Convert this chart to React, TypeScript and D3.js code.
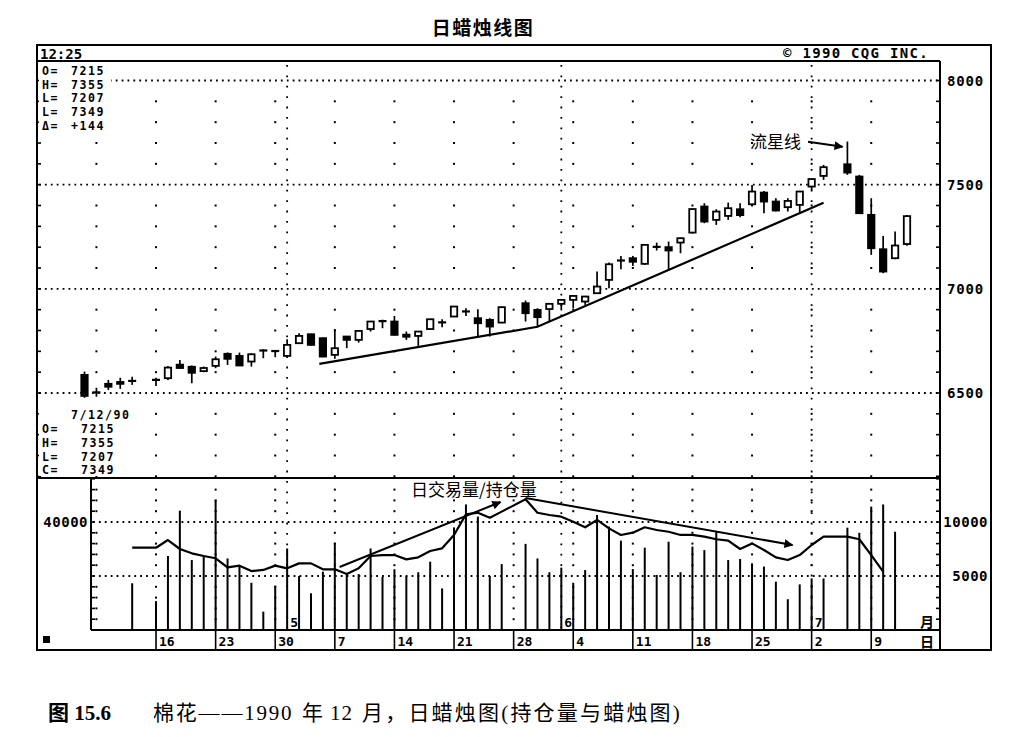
import React from "react";
import * as d3 from "d3";

// ---------- DATA ----------
const candleDates = [
  "4/6","4/9","4/10","4/11","4/12","4/16","4/17","4/18","4/19","4/20",
  "4/23","4/24","4/25","4/26","4/27","4/30","5/1","5/2","5/3","5/4",
  "5/7","5/8","5/9","5/10","5/11","5/14","5/15","5/16","5/17","5/18",
  "5/21","5/22","5/23","5/24","5/25","5/29","5/30","5/31","6/1","6/4",
  "6/5","6/6","6/7","6/8","6/11","6/12","6/13","6/14","6/15","6/18",
  "6/19","6/20","6/21","6/22","6/25","6/26","6/27","6/28","6/29","7/2",
  "7/3","7/5","7/6","7/9","7/10","7/11","7/12",
];
const opens = [
  6587,6503,6544,6553,6558,6563,6571,6636,6626,6605,
  6630,6688,6678,6651,6708,6705,6678,6739,6782,6763,
  6683,6771,6755,6807,6848,6843,6780,6774,6807,6840,
  6867,6893,6859,6851,6838,6931,6899,6903,6928,6947,
  6939,6979,7043,7134,7147,7120,7200,7200,7222,7270,
  7395,7331,7350,7382,7406,7462,7419,7392,7403,7491,
  7542,7598,7539,7355,7190,7147,7215,
];
const highs = [
  6603,6525,6563,6573,6578,6573,6630,6658,6632,6627,
  6675,6695,6694,6690,6710,6706,6758,6787,6785,6766,
  6807,6773,6802,6846,6852,6870,6795,6797,6856,6854,
  6918,6907,6902,6859,6915,6944,6907,6930,6950,6970,
  6966,7083,7126,7158,7158,7215,7222,7227,7246,7385,
  7411,7382,7414,7411,7499,7470,7435,7435,7470,7530,
  7595,7707,7547,7435,7254,7275,7355,
];
const lows = [
  6477,6482,6515,6520,6539,6534,6563,6617,6547,6600,
  6619,6635,6630,6627,6667,6672,6676,6737,6728,6672,
  6664,6715,6742,6795,6811,6776,6755,6726,6805,6816,
  6865,6870,6771,6771,6835,6843,6816,6843,6896,6907,
  6923,6975,7003,7094,7110,7115,7184,7094,7171,7265,
  7315,7307,7331,7344,7398,7363,7371,7371,7366,7472,
  7523,7547,7360,7163,7075,7142,7207,
];
const closes = [
  6486,6503,6530,6544,6558,6563,6622,6620,6597,6620,
  6662,6664,6632,6686,6700,6698,6731,6774,6731,6675,
  6715,6755,6798,6843,6842,6779,6770,6795,6854,6838,
  6915,6890,6835,6819,6912,6883,6864,6928,6947,6966,
  6963,7011,7118,7138,7130,7211,7203,7184,7243,7383,
  7323,7371,7387,7354,7467,7419,7376,7422,7467,7527,
  7584,7558,7363,7195,7083,7208,7349,
];

// daily volume (left scale) from 4/12 to 7/11
const volumeStart = "4/12";
const volumes = [
  17300,10700,27400,44200,25900,27400,48100,26500,24000,17500,
  6800,16400,30200,20000,13600,21600,32300,21000,20700,30200,
  19700,22500,20000,21400,25300,15400,38000,46500,42000,20000,
  24400,31900,26500,21400,23100,17500,22200,42600,38300,33100,
  22600,30500,20400,32700,21400,30900,29600,36700,25900,26300,
  24700,23500,17900,11400,16900,19100,19100,37900,36000,45700,
  46500,36400,
];
// open interest (right scale) from 4/12 to 7/10
const oiStart = "4/12";
const openInterest = [
  7620,7620,8330,7500,7100,6850,6640,5800,5960,5460,
  5560,5960,5710,6170,6170,5620,5620,5190,5710,6850,
  6940,6940,6540,6730,7310,7560,8800,10710,10860,10400,
  10960,12100,10860,10650,10490,10030,9510,10190,9410,8800,
  9010,9510,9260,9100,8800,8800,8640,8400,8270,7500,
  8020,7410,6730,6480,6940,7870,8640,8640,8400,6940,
  5400,
];

const weekTicks = ["4/16","4/23","4/30","5/7","5/14","5/21","5/28","6/4","6/11","6/18","6/25","7/2","7/9"];
const weekLabels = ["16","23","30","7","14","21","28","4","11","18","25","2","9"];
const firstGridMonday = "4/9";
const monthStarts = ["5/1","6/1","7/2"];
const monthLabels = ["5","6","7"];
const priceTicks = [6500, 7000, 7500, 8000];
const volGridTicks = [20000, 40000];
const volLeftLabels = ["", "40000"];
const oiTicks = [5000, 10000];
const oiTickLabels = ["5000", "10000"];

// trendline (slot position, price)
const trendSlots = [19.7, 38.0, 62.0];
const trendPrices = [6640, 6818, 7413];
// volume panel arrows (slot position, open-interest units)
const upArrowSlots = [21.4, 34.9];
const upArrowOI = [5830, 11850];
const downArrowSlots = [37.0, 59.4];
const downArrowOI = [12220, 7870];
// shooting star pointer (slot position, price)
const starArrowSlots = [60.7, 63.6];
const starArrowPrices = [7706, 7682];

const topInfo = [["O=", "7215"], ["H=", "7355"], ["L=", "7207"], ["L=", "7349"], ["Δ=", "+144"]];
const bottomInfo = [["O=", "7215"], ["H=", "7355"], ["L=", "7207"], ["C=", "7349"]];

// ---------- CALENDAR (weekday slots) ----------
const slotOf: Record<string, number> = {};
(() => {
  const d = new Date(1990, 3, 6);
  const end = new Date(1990, 6, 12);
  let s = 0;
  while (d <= end) {
    const wd = d.getDay();
    if (wd !== 0 && wd !== 6) {
      slotOf[`${d.getMonth() + 1}/${d.getDate()}`] = s;
      s++;
    }
    d.setDate(d.getDate() + 1);
  }
})();
const nSlots = Object.keys(slotOf).length;

// ---------- LAYOUT ----------
const L = 37, R = 940, OUT_R = 991;
const TOP = 45, HDR = 61, MID = 478, BASE = 630, BOT = 650;
const VOL_L = 91;

const mono = "'DejaVu Sans Mono', monospace";
const cjk = "'Noto Sans CJK SC', sans-serif";

export default function App() {
  const x = d3.scaleLinear().domain([0, nSlots - 1]).range([84.5, 907]);
  const yP = d3.scaleLinear().domain([6500, 8000]).range([393, 80.5]);
  const yV = d3.scaleLinear().domain([0, 40000]).range([BASE, 522]);
  const yO = d3.scaleLinear().domain([0, 10000]).range([BASE, 522]);

  const gridCols = [firstGridMonday, ...weekTicks].map((d) => x(slotOf[d]));
  const priceRows = d3.range(6100, 8001, 100).filter((p) => p % 500 !== 0);
  const oiRows = d3.range(1000, 13600, 1000).filter((p) => p % 5000 !== 0);
  const leftTicks = d3.range(6100, 8001, 100);

  const volIdx0 = candleDates.indexOf(volumeStart);
  const oiIdx0 = candleDates.indexOf(oiStart);

  const oiLine = d3
    .line<number>()
    .x((_, i) => x(slotOf[candleDates[oiIdx0 + i]]))
    .y((v) => yO(v));
  const trendLine = d3
    .line<number>()
    .x((_, i) => x(trendSlots[i]))
    .y((p) => yP(p));

  const dots: JSX.Element[] = [];
  gridCols.forEach((cx, ci) => {
    priceRows.forEach((p) => {
      const cy = yP(p);
      if (cy > HDR + 2 && cy < MID - 1)
        dots.push(<rect key={`p${ci}-${p}`} x={cx - 1} y={cy - 1} width={2} height={2} fill="#000" />);
    });
    if (cx > VOL_L + 3)
      oiRows.forEach((v) => {
        const cy = yO(v);
        if (cy > MID + 3)
          dots.push(<rect key={`o${ci}-${v}`} x={cx - 1} y={cy - 1} width={2} height={2} fill="#000" />);
      });
  });

  const infoFont = { fontFamily: mono, fontWeight: "bold" as const, fontSize: 11.6, letterSpacing: 1.5 };

  return (
    <svg
      width={1021}
      height={737}
      viewBox="0 0 1021 737"
      style={{ position: "absolute", left: 0, top: 0, background: "#fff" }}
    >
      <defs>
        <marker id="ah" viewBox="0 0 10 10" refX="9" refY="5" markerWidth="5" markerHeight="4.5" orient="auto">
          <path d="M0,0 L10,5 L0,10 z" fill="#000" />
        </marker>
      </defs>
      <rect x={0} y={0} width={1021} height={737} fill="#fff" />

      {/* title */}
      <text x={483} y={35} textAnchor="middle" fontFamily={cjk} fontWeight="bold" fontSize={19} letterSpacing={1.5}>
        日蜡烛线图
      </text>

      {/* grid: major dotted lines */}
      {priceTicks.map((p) => (
        <line key={`pg${p}`} x1={L + 2} x2={R - 2} y1={yP(p)} y2={yP(p)} stroke="#000" strokeWidth={1.8} strokeDasharray="1.8 4.1" />
      ))}
      {volGridTicks.map((v) => (
        <line key={`vg${v}`} x1={VOL_L + 2} x2={R - 2} y1={yV(v)} y2={yV(v)} stroke="#000" strokeWidth={1.8} strokeDasharray="1.8 4.1" />
      ))}
      {/* month dotted verticals */}
      {monthStarts.map((m) => (
        <line key={`mg${m}`} x1={x(slotOf[m])} x2={x(slotOf[m])} y1={HDR + 4} y2={BASE - 2} stroke="#000" strokeWidth={1.8} strokeDasharray="1.8 8.6" />
      ))}
      {dots}

      {/* axis ticks */}
      {leftTicks.map((p) => (
        <g key={`lt${p}`}>
          <line x1={L} x2={L + 4} y1={yP(p)} y2={yP(p)} stroke="#000" strokeWidth={1.6} />
          <line x1={R - 4} x2={R} y1={yP(p)} y2={yP(p)} stroke="#000" strokeWidth={1.6} />
        </g>
      ))}
      {d3.range(1000, 14001, 1000).map((v) => (
        <g key={`vt${v}`}>
          <line x1={VOL_L} x2={VOL_L + 4} y1={yO(v)} y2={yO(v)} stroke="#000" strokeWidth={1.6} />
          <line x1={R - 4} x2={R} y1={yO(v)} y2={yO(v)} stroke="#000" strokeWidth={1.6} />
        </g>
      ))}

      {/* info blocks */}
      <rect x={39} y={63} width={72} height={70} fill="#fff" />
      {topInfo.map(([k, v], i) => (
        <g key={`ti${i}`} {...infoFont}>
          <text x={42} y={75 + i * 13.7}>{k}</text>
          <text x={71} y={75 + i * 13.7}>{v}</text>
        </g>
      ))}
      <rect x={39} y={404} width={102} height={72} fill="#fff" />
      <text x={71} y={418.5} {...infoFont}>7/12/90</text>
      {bottomInfo.map(([k, v], i) => (
        <g key={`bi${i}`} {...infoFont}>
          <text x={42} y={433 + i * 13.8}>{k}</text>
          <text x={81} y={433 + i * 13.8}>{v}</text>
        </g>
      ))}

      {/* header */}
      <text x={40} y={58.5} fontFamily={mono} fontWeight="bold" fontSize={14}>12:25</text>
      <text x={783} y={58} fontFamily={mono} fontWeight="bold" fontSize={14} letterSpacing={1.3}>© 1990 CQG INC.</text>

      {/* right labels */}
      {priceTicks.map((p) => (
        <text key={`pl${p}`} x={947} y={yP(p) + 5} fontFamily={mono} fontWeight="bold" fontSize={14} letterSpacing={0.8}>
          {String(p)}
        </text>
      ))}
      {oiTicks.map((v, i) => (
        <text key={`ol${v}`} x={988} y={yO(v) + 5} textAnchor="end" fontFamily={mono} fontWeight="bold" fontSize={14} letterSpacing={0.5}>
          {oiTickLabels[i]}
        </text>
      ))}
      {volGridTicks.map((v, i) =>
        volLeftLabels[i] ? (
          <text key={`vl${v}`} x={88} y={yV(v) + 5} textAnchor="end" fontFamily={mono} fontWeight="bold" fontSize={14} letterSpacing={0.5}>
            {volLeftLabels[i]}
          </text>
        ) : null
      )}

      {/* trend line */}
      <path d={trendLine(trendPrices) || ""} fill="none" stroke="#000" strokeWidth={2.2} />

      {/* candles */}
      {candleDates.map((d, i) => {
        const cx = x(slotOf[d]);
        const o = opens[i], c = closes[i];
        const yt = yP(Math.max(o, c));
        const yb = yP(Math.min(o, c));
        const up = c >= o;
        const bw = 6.4;
        const bh = yb - yt;
        return (
          <g key={`c${d}`}>
            <line x1={cx} x2={cx} y1={yP(highs[i])} y2={yP(lows[i])} stroke="#000" strokeWidth={1.7} />
            {bh < 1.8 ? (
              <line x1={cx - 4} x2={cx + 4} y1={(yt + yb) / 2} y2={(yt + yb) / 2} stroke="#000" strokeWidth={2.2} />
            ) : (
              <rect x={cx - bw / 2} y={yt} width={bw} height={bh} fill={up ? "#fff" : "#000"} stroke="#000" strokeWidth={1.8} />
            )}
          </g>
        );
      })}

      {/* shooting star annotation */}
      <text x={750} y={148} fontFamily={cjk} fontSize={17}>流星线</text>
      <line
        x1={x(starArrowSlots[0])} y1={yP(starArrowPrices[0])}
        x2={x(starArrowSlots[1])} y2={yP(starArrowPrices[1])}
        stroke="#000" strokeWidth={2} markerEnd="url(#ah)"
      />

      {/* volume bars */}
      {volumes.map((v, i) => {
        const cx = x(slotOf[candleDates[volIdx0 + i]]);
        return <line key={`v${i}`} x1={cx} x2={cx} y1={yV(0)} y2={yV(v)} stroke="#000" strokeWidth={2} />;
      })}
      {/* open interest */}
      <path d={oiLine(openInterest) || ""} fill="none" stroke="#000" strokeWidth={2.2} strokeLinejoin="round" />

      {/* volume annotation */}
      <text x={411} y={496} fontFamily={cjk} fontSize={17}>日交易量/持仓量</text>
      <line
        x1={x(upArrowSlots[0])} y1={yO(upArrowOI[0])}
        x2={x(upArrowSlots[1])} y2={yO(upArrowOI[1])}
        stroke="#000" strokeWidth={2} markerEnd="url(#ah)"
      />
      <line
        x1={x(downArrowSlots[0])} y1={yO(downArrowOI[0])}
        x2={x(downArrowSlots[1])} y2={yO(downArrowOI[1])}
        stroke="#000" strokeWidth={2} markerEnd="url(#ah)"
      />

      {/* month labels */}
      {monthStarts.map((m, i) => (
        <text key={`ml${m}`} x={x(slotOf[m]) + 3} y={627} fontFamily={mono} fontWeight="bold" fontSize={13}>
          {monthLabels[i]}
        </text>
      ))}
      <text x={920} y={627} fontFamily={cjk} fontWeight="bold" fontSize={14}>月</text>
      <text x={920} y={647} fontFamily={cjk} fontWeight="bold" fontSize={14}>日</text>

      {/* week ticks and labels */}
      {weekTicks.map((d, i) => {
        const tx = x(slotOf[d]);
        return (
          <g key={`wk${d}`}>
            <line x1={tx} x2={tx} y1={BASE} y2={BOT} stroke="#000" strokeWidth={1.6} />
            <text x={tx + 3} y={645.5} fontFamily={mono} fontWeight="bold" fontSize={13}>
              {weekLabels[i]}
            </text>
          </g>
        );
      })}
      <rect x={43} y={636} width={7} height={7} fill="#000" />

      {/* frames */}
      <g fill="none" stroke="#000" strokeWidth={2}>
        <rect x={L} y={TOP} width={OUT_R - L} height={BOT - TOP} />
        <line x1={L} x2={R} y1={HDR} y2={HDR} />
        <line x1={R} x2={R} y1={HDR} y2={BOT} />
        <line x1={L} x2={R} y1={MID} y2={MID} />
        <line x1={VOL_L} x2={VOL_L} y1={MID} y2={BASE} />
        <line x1={VOL_L} x2={R} y1={BASE} y2={BASE} />
      </g>

      {/* caption */}
      <g fontFamily={"'Liberation Serif', 'Noto Sans CJK SC', serif"} fontSize={21}>
        <text x={48} y={720} fontWeight="bold">图 15.6</text>
        <text x={153} y={720} letterSpacing={1.8}>棉花——1990</text>
        <text x={302} y={720}>年</text>
        <text x={330} y={720} letterSpacing={1}>12</text>
        <text x={362} y={720} letterSpacing={2.2}>月，日蜡烛图(持仓量与蜡烛图)</text>
      </g>
    </svg>
  );
}
